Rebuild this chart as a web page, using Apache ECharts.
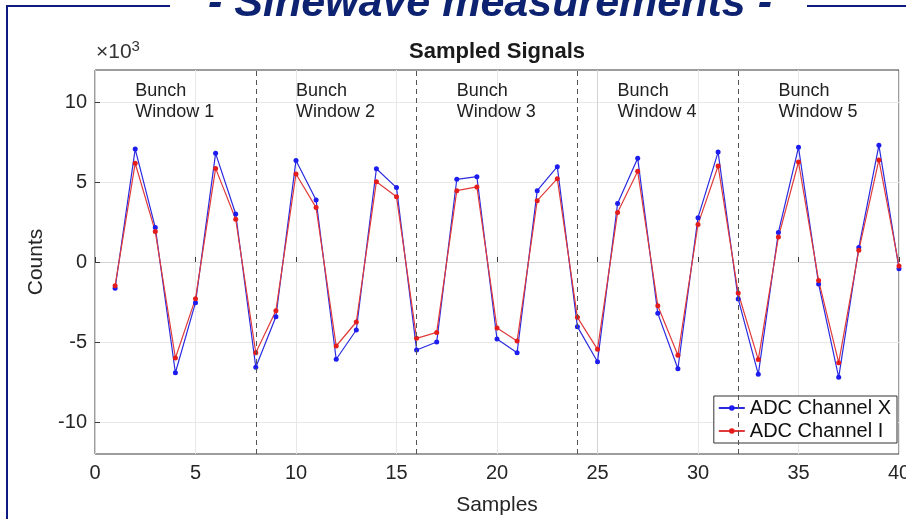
<!DOCTYPE html>
<html>
<head>
<meta charset="utf-8">
<script src="https://cdn.jsdelivr.net/npm/echarts@6/dist/echarts.min.js"></script>
<style>
    html, body { margin: 0; padding: 0; background: #fff; }
    #main { width: 906px; height: 519px; }
</style>
</head>
<body>
<div id="main"></div>
<script>
    // samples 1..40
    var samples = [];
    for (var i = 1; i <= 40; i++) samples.push(i);

    var chanX = [-1640, 7060, 2150, -6920, -2540, 6790, 3000, -6580,
                 -3420, 6350, 3870, -6080, -4250, 5830, 4650, -5500,
                 -5000, 5170, 5330, -4810, -5670, 4460, 5960, -4040,
                 -6230, 3650, 6480, -3210, -6670, 2770, 6870, -2310,
                 -7020, 1850, 7170, -1370, -7210, 900, 7290, -420];
    var chanI = [-1480, 6170, 1900, -6000, -2290, 5850, 2670, -5670,
                 -3040, 5500, 3400, -5250, -3750, 5020, 4080, -4770,
                 -4400, 4460, 4690, -4130, -4940, 3830, 5210, -3460,
                 -5460, 3100, 5670, -2730, -5830, 2350, 6000, -1940,
                 -6100, 1560, 6250, -1150, -6290, 730, 6380, -250];

    var windowEdges = [8, 16, 24, 32];
    var windowNames = ['Window 1', 'Window 2', 'Window 3', 'Window 4', 'Window 5'];
    var xTicks = [0, 5, 10, 15, 20, 25, 30, 35, 40];
    var yTicks = [-10000, -5000, 0, 5000, 10000];

    function pairs(vals) {
        var out = [];
        for (var i = 0; i < vals.length; i++) out.push([samples[i], vals[i]]);
        return out;
    }

    var FONT = 'Liberation Sans, Arial, sans-serif';
    var NAVY = '#0f1a80';
    var minor = '#e8e8e8', major = '#d2d2d2';

    var labelPoints = windowNames.map(function (n, k) {
        return {
            coord: [8 * k + 2, 10050],
            label: { formatter: 'Bunch\n' + n }
        };
    });

    var option = {
        animation: false,
        backgroundColor: '#fff',
        grid: {
            left: 95, right: 7, top: 70, bottom: 65,
            outerBoundsMode: 'none',
            show: true, borderColor: '#3a3a3a', borderWidth: 1,
            backgroundColor: '#fff'
        },
        legend: {
            orient: 'vertical',
            right: 9, top: 396,
            backgroundColor: '#fff',
            borderColor: '#333', borderWidth: 1,
            padding: [2, 6, 2, 4],
            itemGap: 3,
            itemWidth: 26, itemHeight: 7,
            textStyle: { fontFamily: FONT, fontSize: 20, color: '#111' },
            data: ['ADC Channel X', 'ADC Channel I']
        },
        xAxis: {
            type: 'value', min: 0, max: 40, interval: 1,
            name: 'Samples', nameLocation: 'middle', nameGap: 41,
            nameTextStyle: { fontFamily: FONT, fontSize: 21, color: '#262626' },
            axisLine: { show: false },
            axisTick: { show: true, inside: true, length: 5, customValues: xTicks,
                        lineStyle: { color: '#3a3a3a' } },
            axisLabel: { customValues: xTicks, margin: 9,
                         fontFamily: FONT, fontSize: 20, color: '#262626' },
            splitLine: { show: true,
                         lineStyle: { width: 1, color: [major, minor, minor, minor, minor] } }
        },
        yAxis: {
            type: 'value', min: -12000, max: 12000, interval: 1000,
            name: 'Counts', nameLocation: 'middle', nameGap: 43, nameRotate: 90,
            nameTextStyle: { fontFamily: FONT, fontSize: 21, color: '#262626' },
            axisLine: { show: false },
            axisTick: { show: true, inside: true, length: 5, customValues: yTicks,
                        lineStyle: { color: '#3a3a3a' } },
            axisLabel: { customValues: yTicks, margin: 8,
                         fontFamily: FONT, fontSize: 20, color: '#262626',
                         formatter: function (v) { return String(v / 1000); } },
            splitLine: { show: true,
                         lineStyle: { width: 1, color: [minor, minor, major, minor, minor] } }
        },
        series: [
            {
                name: 'ADC Channel X', type: 'line',
                data: pairs(chanX),
                symbol: 'circle', symbolSize: 5,
                color: '#1c1cf0',
                lineStyle: { width: 1.2, color: '#2a2ae0' },
                markLine: {
                    silent: true, symbol: 'none',
                    label: { show: false },
                    lineStyle: { type: [5, 4], color: '#555', width: 1 },
                    data: windowEdges.map(function (e) { return { xAxis: e }; })
                },
                markPoint: {
                    symbol: 'circle', symbolSize: 0,
                    label: {
                        show: true, position: 'right', distance: 0,
                        fontFamily: FONT, fontSize: 18, lineHeight: 21, color: '#222'
                    },
                    data: labelPoints
                }
            },
            {
                name: 'ADC Channel I', type: 'line',
                data: pairs(chanI),
                symbol: 'circle', symbolSize: 5,
                color: '#e41c1c',
                lineStyle: { width: 1.2, color: '#e03a3a' }
            }
        ],
        graphic: [
            { type: 'line', shape: { x1: 7, y1: 6, x2: 170, y2: 6 },
              style: { stroke: NAVY, lineWidth: 2 } },
            { type: 'line', shape: { x1: 7, y1: 5, x2: 7, y2: 519 },
              style: { stroke: NAVY, lineWidth: 2 } },
            { type: 'line', shape: { x1: 807, y1: 6, x2: 906, y2: 6 },
              style: { stroke: NAVY, lineWidth: 2 } },
            { type: 'text', x: 490, y: 26,
              style: { text: '- Sinewave measurements -', fill: '#0d2270',
                       font: 'italic bold 43px ' + FONT,
                       textAlign: 'center', textVerticalAlign: 'bottom' } },
            { type: 'text', x: 497, y: 52,
              style: { text: 'Sampled Signals', fill: '#1a1a1a',
                       font: 'bold 22px ' + FONT,
                       textAlign: 'center', textVerticalAlign: 'middle' } },
            { type: 'text', x: 96, y: 66,
              style: { text: '×10{s|3}', fill: '#333',
                       font: '21px ' + FONT,
                       rich: { s: { fontSize: 15, fontFamily: FONT, fill: '#333', verticalAlign: 'top', padding: [0, 0, 12, 0] } },
                       textVerticalAlign: 'bottom' } }
        ]
    };

    var chart = echarts.init(document.getElementById('main'));
    chart.setOption(option);
</script>
</body>
</html>
